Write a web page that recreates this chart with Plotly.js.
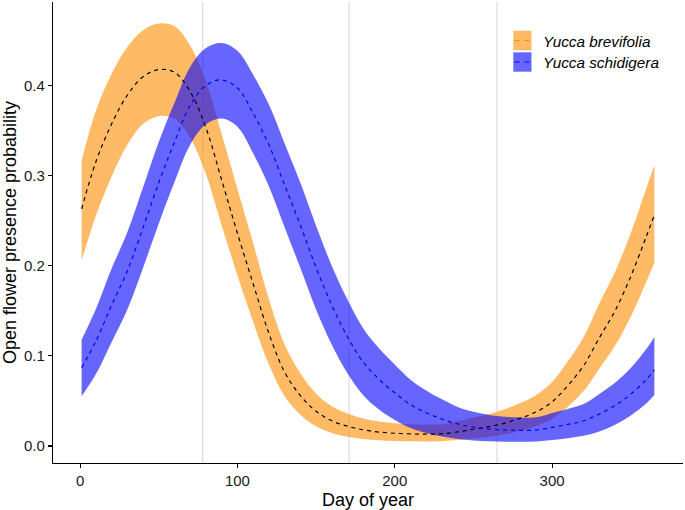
<!DOCTYPE html>
<html>
<head>
<meta charset="utf-8">
<script src="https://cdn.plot.ly/plotly-3.0.1.min.js"></script>
<style>
  html, body { margin: 0; padding: 0; background: #ffffff; }
  #chart { width: 685px; height: 510px; }
</style>
</head>
<body>
<div id="chart"></div>
<script>
const days = [1,10,20,30,40,50,60,70,80,90,100,110,120,130,140,150,160,170,180,190,200,210,220,230,240,250,260,270,280,290,300,310,320,330,340,350,360,365];

// Yucca brevifolia: fitted probability and confidence band
const brevMean  = [0.263,0.315,0.357,0.389,0.4095,0.4175,0.4145,0.393,0.353,0.295,0.236,0.180,0.125,0.082,0.056,0.0385,0.028,0.022,0.018,0.0155,0.0142,0.0135,0.0132,0.0136,0.0158,0.0186,0.0215,0.0255,0.031,0.038,0.049,0.067,0.089,0.12,0.15,0.188,0.233,0.256];
const brevUpper = [0.3168,0.3713,0.4125,0.4424,0.4611,0.4685,0.4655,0.4440,0.4047,0.3461,0.2850,0.2251,0.1630,0.1125,0.0806,0.0580,0.0441,0.0361,0.0305,0.0271,0.0253,0.0243,0.0238,0.0243,0.0276,0.0317,0.0356,0.0408,0.0479,0.0567,0.0709,0.0939,0.1207,0.1581,0.1929,0.2363,0.2865,0.3116];
const brevLower = [0.2059,0.2551,0.2986,0.3337,0.3570,0.3658,0.3629,0.3418,0.3013,0.2447,0.1892,0.1379,0.0904,0.0551,0.0348,0.0219,0.0146,0.0104,0.0079,0.0064,0.0056,0.0052,0.0051,0.0054,0.0066,0.0083,0.0102,0.0131,0.0170,0.0222,0.0302,0.0436,0.0610,0.0858,0.1111,0.1433,0.1827,0.2029];

// Yucca schidigera: fitted probability and confidence band
const schiMean  = [0.087,0.116,0.156,0.194,0.242,0.292,0.337,0.378,0.400,0.406,0.397,0.369,0.334,0.2895,0.245,0.198,0.156,0.121,0.093,0.074,0.059,0.046,0.037,0.030,0.0245,0.021,0.0188,0.0178,0.0174,0.0177,0.0208,0.024,0.028,0.0355,0.045,0.0575,0.074,0.0845];
const schiUpper = [0.1180,0.1517,0.1965,0.2370,0.2866,0.3372,0.3807,0.4204,0.4414,0.4470,0.4383,0.4118,0.3787,0.3356,0.2920,0.2444,0.1997,0.1621,0.1304,0.1084,0.0904,0.0736,0.0617,0.0518,0.0433,0.0379,0.0344,0.0326,0.0317,0.0318,0.0366,0.0412,0.0466,0.0578,0.0703,0.0865,0.1078,0.1210];
const schiLower = [0.0551,0.0795,0.1152,0.1512,0.1975,0.2466,0.2928,0.3342,0.3568,0.3631,0.3540,0.3246,0.2881,0.2426,0.1976,0.1515,0.1124,0.0805,0.0564,0.0405,0.0289,0.0201,0.0145,0.0105,0.0078,0.0062,0.0052,0.0048,0.0048,0.0051,0.0066,0.0086,0.0113,0.0160,0.0235,0.0340,0.0475,0.0565];

// Reference days (vertical guide lines)
const refDays = [78, 171, 265];

// Ticks
const xTicks = [0, 100, 200, 300];
const yTicks = [0.0, 0.1, 0.2, 0.3, 0.4];

// Labels
const speciesNames = ["Yucca brevifolia", "Yucca schidigera"];
const xTitle = "Day of year";
const yTitle = "Open flower presence probability";

const ORANGE_FILL = "rgba(255,140,0,0.6)";
const BLUE_FILL = "rgba(0,0,255,0.6)";
const FONT = "Liberation Sans, Arial, Helvetica, sans-serif";
const LEG_SIZE = 15.3;

function band(lower, upper, fill) {
  return [
    { x: days, y: lower, mode: "lines", line: { width: 0, shape: "spline", smoothing: 1 }, showlegend: false, hoverinfo: "skip" },
    { x: days, y: upper, mode: "lines", fill: "tonexty", fillcolor: fill, line: { width: 0, shape: "spline", smoothing: 1 }, showlegend: false, hoverinfo: "skip" }
  ];
}

const traces = [
  ...band(brevLower, brevUpper, ORANGE_FILL),
  ...band(schiLower, schiUpper, BLUE_FILL),
  { x: days, y: brevMean, mode: "lines", line: { color: "#000000", width: 1.2, dash: "4px,4px", shape: "spline", smoothing: 1 }, showlegend: false, name: speciesNames[0] },
  { x: days, y: schiMean, mode: "lines", line: { color: "#0000ff", width: 1.2, dash: "4px,4px", shape: "spline", smoothing: 1 }, showlegend: false, name: speciesNames[1] }
];

// plot-area geometry (pixels) used to place the manual legend
const L = 53, R = 2, T = 2, B = 47, W = 685, H = 510;
const pw = W - L - R, ph = H - T - B;
const px = v => (v - L) / pw;
const py = v => (H - B - v) / ph;

const shapes = refDays.map(d => ({
  type: "line", xref: "x", yref: "paper", x0: d, x1: d, y0: 0, y1: 1,
  line: { color: "#d4d4d4", width: 1 }, layer: "below"
}));

// legend keys
shapes.push(
  { type: "rect", xref: "paper", yref: "paper", x0: px(513.3), x1: px(531.5), y0: py(50.3), y1: py(30.7), fillcolor: ORANGE_FILL, line: { width: 0 } },
  { type: "line", xref: "paper", yref: "paper", x0: px(514.5), x1: px(530.5), y0: py(40.5), y1: py(40.5), line: { color: "rgb(255,140,0)", width: 1.2, dash: "5px,5px" } },
  { type: "rect", xref: "paper", yref: "paper", x0: px(513.3), x1: px(531.5), y0: py(71.7), y1: py(52.3), fillcolor: BLUE_FILL, line: { width: 0 } },
  { type: "line", xref: "paper", yref: "paper", x0: px(514.5), x1: px(530.5), y0: py(62), y1: py(62), line: { color: "#0000ff", width: 1.2, dash: "5px,5px" } }
);

const annotations = [
  { xref: "paper", yref: "paper", x: px(541), y: py(41), xanchor: "left", yanchor: "middle", text: "<i>" + speciesNames[0] + "</i>", showarrow: false, font: { family: FONT, size: LEG_SIZE, color: "#000" } },
  { xref: "paper", yref: "paper", x: px(541), y: py(62.5), xanchor: "left", yanchor: "middle", text: "<i>" + speciesNames[1] + "</i>", showarrow: false, font: { family: FONT, size: LEG_SIZE, color: "#000" } }
];

const layout = {
  width: W, height: H,
  margin: { l: L, r: R, t: T, b: B, pad: 0 },
  paper_bgcolor: "#ffffff", plot_bgcolor: "#ffffff",
  font: { family: FONT, color: "#000" },
  showlegend: false,
  xaxis: {
    range: [-17.2, 383.2], tickvals: xTicks, ticktext: xTicks.map(String),
    showgrid: false, zeroline: false, showline: true, linecolor: "#000", linewidth: 1.1,
    ticks: "outside", ticklen: 4, tickwidth: 1.1, tickcolor: "#000",
    tickfont: { family: FONT, size: 15, color: "#1a1a1a" },
    title: { text: xTitle, font: { family: FONT, size: 18, color: "#000" }, standoff: 6 }
  },
  yaxis: {
    range: [-0.0188, 0.4924], tickvals: yTicks, ticktext: yTicks.map(v => v.toFixed(1)),
    showgrid: false, zeroline: false, showline: true, linecolor: "#000", linewidth: 1.1,
    ticks: "outside", ticklen: 4, tickwidth: 1.1, tickcolor: "#000",
    tickfont: { family: FONT, size: 15, color: "#1a1a1a" },
    title: { text: yTitle, font: { family: FONT, size: 18, color: "#000" }, standoff: 6 }
  },
  shapes: shapes,
  annotations: annotations
};

Plotly.newPlot("chart", traces, layout, { displayModeBar: false, staticPlot: true });
</script>
</body>
</html>
